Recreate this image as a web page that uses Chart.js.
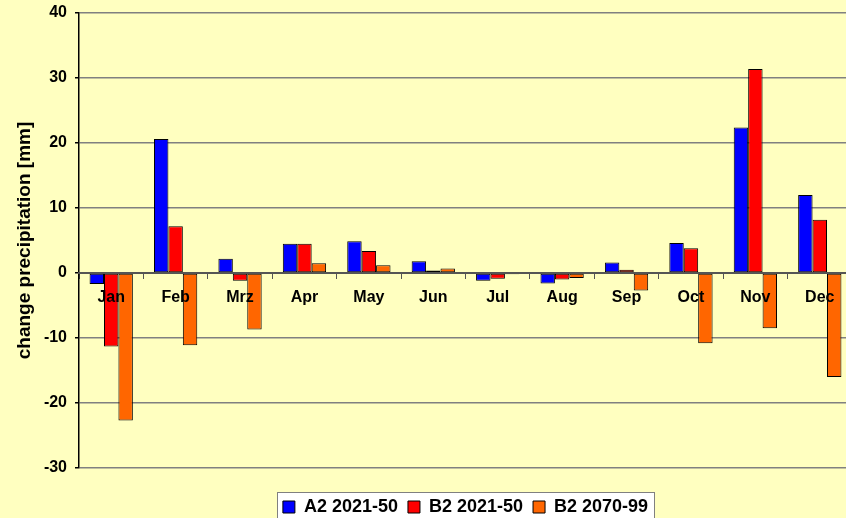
<!DOCTYPE html>
<html>
<head>
<meta charset="utf-8">
<script src="https://cdn.jsdelivr.net/npm/chart.js@4.4.1/dist/chart.umd.min.js"></script>
<style>
  html, body { margin: 0; padding: 0; overflow: hidden; background: #FFFFC0; }
  #wrap { width: 852px; height: 526px; }
</style>
</head>
<body>
<div id="wrap"><canvas id="c" width="852" height="526"></canvas></div>
<script>
// Monthly change in precipitation (mm) per scenario
const months = ['Jan', 'Feb', 'Mrz', 'Apr', 'May', 'Jun', 'Jul', 'Aug', 'Sep', 'Oct', 'Nov', 'Dec'];
const a2_2021_50 = [-1.7, 20.6, 2.2, 4.5, 4.9, 1.8, -1.2, -1.6, 1.6, 4.6, 22.4, 12.0];
const b2_2021_50 = [-11.3, 7.2, -1.2, 4.5, 3.4, 0.4, -0.9, -1.0, 0.5, 3.8, 31.4, 8.2];
const b2_2070_99 = [-22.7, -11.1, -8.7, 1.5, 1.2, 0.7, -0.2, -0.75, -2.7, -10.8, -8.5, -16.0];
const seriesNames = ['A2 2021-50', 'B2 2021-50', 'B2 2070-99'];
const yMin = -30, yMax = 40, yStep = 10;

const FONT = "'Liberation Sans', Arial, sans-serif";

// Pale yellow page fill plus a white framed panel behind the legend
const backdrop = {
  id: 'backdrop',
  beforeDraw(chart) {
    const ctx = chart.ctx;
    ctx.save();
    ctx.fillStyle = '#FFFFC0';
    ctx.fillRect(0, 0, chart.width, chart.height);
    const boxes = chart.legend && chart.legend.legendHitBoxes;
    if (boxes && boxes.length) {
      const first = boxes[0], last = boxes[boxes.length - 1];
      const left = Math.round(first.left - 6) + 0.5;
      const right = Math.round(last.left + last.width + 6) + 0.5;
      const top = Math.round(first.top - 6) + 0.5;
      ctx.fillStyle = '#FFFFFF';
      ctx.fillRect(left, top, right - left, chart.height - top + 5);
      ctx.strokeStyle = '#808080';
      ctx.lineWidth = 1;
      ctx.strokeRect(left, top, right - left, chart.height - top + 5);
    }
    ctx.restore();
  }
};

const barStyle = (color) => ({
  backgroundColor: color,
  borderColor: '#000000',
  borderWidth: 1,
  borderSkipped: false
});

new Chart(document.getElementById('c'), {
  type: 'bar',
  data: {
    labels: months,
    datasets: [
      Object.assign({ label: seriesNames[0], data: a2_2021_50 }, barStyle('#0000FF')),
      Object.assign({ label: seriesNames[1], data: b2_2021_50 }, barStyle('#FF0000')),
      Object.assign({ label: seriesNames[2], data: b2_2070_99 }, barStyle('#FF6600'))
    ]
  },
  options: {
    responsive: false,
    animation: false,
    devicePixelRatio: 1,
    categoryPercentage: 0.672,
    barPercentage: 1.0,
    layout: { padding: { top: 13, right: 0, bottom: 0, left: 0 } },
    scales: {
      x: {
        position: { y: 0 },
        ticks: {
          z: 1,
          color: '#000',
          font: { family: FONT, weight: 'bold', size: 16 },
          padding: 10,
          maxRotation: 0,
          autoSkip: false
        },
        grid: {
          drawOnChartArea: false,
          drawTicks: true,
          tickLength: 5,
          tickColor: '#555555',
          offset: true
        },
        border: { display: true, color: '#555555', width: 2, z: 1 }
      },
      y: {
        min: yMin,
        max: yMax,
        ticks: {
          stepSize: yStep,
          color: '#000',
          font: { family: FONT, weight: 'bold', size: 16 },
          padding: 8
        },
        grid: {
          color: '#808080',
          lineWidth: 1.5,
          tickLength: 4,
          tickColor: '#000000'
        },
        border: { display: true, color: '#000000', width: 1.5 },
        title: {
          display: true,
          text: 'change precipitation [mm]',
          color: '#000',
          font: { family: FONT, weight: 'bold', size: 19 },
          padding: { top: 13, bottom: 0 }
        },
        afterFit(scale) {
          scale.width = 79;
          scale.paddingTop = 0;
          scale.paddingBottom = 0;
        }
      }
    },
    plugins: {
      tooltip: { enabled: false },
      legend: {
        position: 'bottom',
        fullSize: false,
        title: { display: true, text: ' ', color: 'rgba(0,0,0,0)', font: { size: 10 }, padding: { top: 4, bottom: 4 } },
        labels: {
          boxWidth: 12,
          boxHeight: 12,
          padding: 10,
          color: '#000',
          font: { family: FONT, weight: 'bold', size: 18 }
        }
      }
    }
  },
  plugins: [backdrop]
});
</script>
</body>
</html>
